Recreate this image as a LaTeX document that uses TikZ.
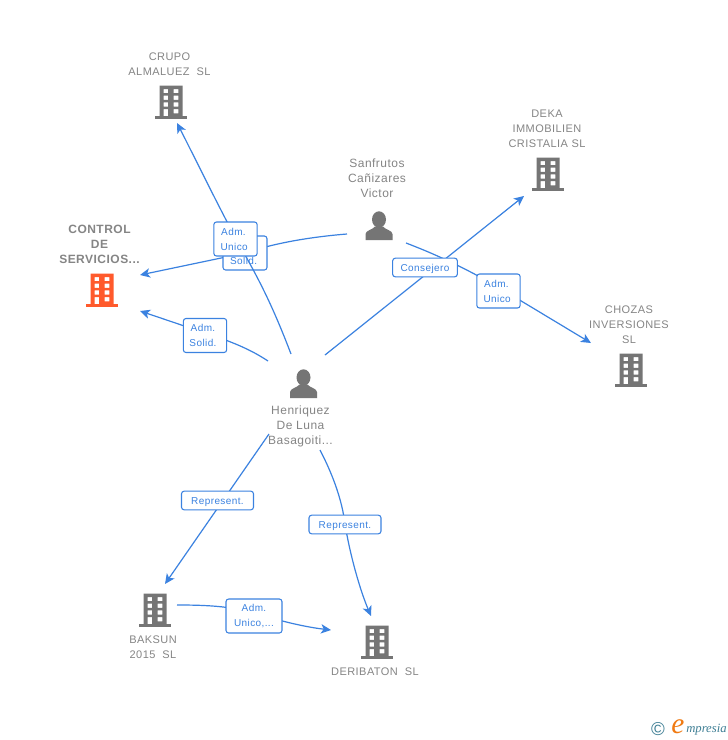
\documentclass[tikz,border=0pt]{standalone}
\usepackage{fontspec}
\setmainfont[LetterSpace=4]{Liberation Sans}
\newfontfamily\logofont{Liberation Serif}
\usetikzlibrary{arrows.meta}
\definecolor{iconG}{HTML}{757575}
\definecolor{textG}{HTML}{858585}
\definecolor{iconO}{HTML}{FF5A2C}
\definecolor{linkB}{HTML}{3B82E0}
\definecolor{logoT}{HTML}{3F7F95}
\definecolor{logoO}{HTML}{F07A12}
\newcommand{\onelinetag}[1]{\raisebox{-3.3pt}[0pt][0pt]{#1}}
\tikzset{
  x=0.75pt,y=-0.75pt,
  link/.style={draw=linkB,line width=0.9pt,-{Stealth[length=7.5pt,width=7pt,inset=2pt]}},
  tag/.style={draw=linkB,line width=0.8pt,rounded corners=2pt,fill=white,text=linkB,align=center,inner sep=0pt,
     font=\fontsize{7.5pt}{11.25pt}\selectfont},
  co/.style={text=textG,align=center,inner sep=0pt,font=\fontsize{8.25pt}{11.25pt}\selectfont},
  coB/.style={text=textG,align=center,inner sep=0pt,font=\fontsize{9pt}{11.25pt}\selectfont\bfseries},
  pe/.style={text=textG,align=center,inner sep=0pt,font=\fontsize{9pt}{11.25pt}\selectfont},
  building/.pic={
    \fill[even odd rule,pic actions]
      (-11.5,-16.5) rectangle (11.5,15)
      (-7.5,-13) rectangle (-2.8,-8.8)
      (2.6,-13) rectangle (7.3,-8.8)
      (-7.5,-6.3) rectangle (-2.8,-2.1)
      (2.6,-6.3) rectangle (7.3,-2.1)
      (-7.5,0.4) rectangle (-2.8,4.6)
      (2.6,0.4) rectangle (7.3,4.6)
      (-7.5,7) rectangle (-2.8,15)
      (2.6,7) rectangle (7.3,11.4);
    \fill[pic actions] (-16,14.2) rectangle (16,16.5);
  },
  person/.pic={
    \fill[pic actions] (0,-6.5) ellipse (7 and 8.2);
    \fill[pic actions] (-13.5,14) -- (-13.5,8)
      .. controls (-13.5,4.5) and (-6,3.5) .. (-4,0.5)
      -- (4,0.5)
      .. controls (6,3.5) and (13.5,4.5) .. (13.5,8) -- (13.5,14) -- cycle;
  }
}
\begin{document}
\begin{tikzpicture}
\useasboundingbox (0,0) rectangle (728,740);
\fill[white] (0,0) rectangle (728,740);

% icons
\pic[iconG] at (171,102) {building};
\pic[iconG] at (548,174) {building};
\pic[iconG] at (631,370) {building};
\pic[iconO] at (102,290) {building};
\pic[iconG] at (155,610) {building};
\pic[iconG] at (377,642) {building};
\pic[iconG] at (303.5,384) {person};
\pic[iconG] at (379,226) {person};

% texts
\node[co] (crupo) at (169.5,64.5) {CRUPO\\ALMALUEZ~~SL};
\node[co] (deka) at (547,128.5) {DEKA\\IMMOBILIEN\\CRISTALIA SL};
\node[co] (chozas) at (629,324.5) {CHOZAS\\INVERSIONES\\SL};
\node[coB] (control) at (99.5,244.5) {CONTROL\\DE\\SERVICIOS...};
\node[co] (baksun) at (153,647) {BAKSUN\\2015~~SL};
\node[co] (deribaton) at (375,671.5) {DERIBATON~~SL};
\node[pe] (sanfrutos) at (377,178) {Sanfrutos\\Cañizares\\Victor};
\node[pe] (henriquez) at (300.5,426.5) {Henriquez\\De Luna\\Basagoiti...};

% free ends
\coordinate (hA) at (291,354);
\coordinate (aCrupo) at (177,123);
\coordinate (sB) at (347,234);
\coordinate (aControlA) at (140,275);
\coordinate (hC) at (268,361);
\coordinate (aControlB) at (140,311);
\coordinate (hD) at (325,355);
\coordinate (aDeka) at (524,196);
\coordinate (sE) at (406,243);
\coordinate (aChozas) at (591,343);
\coordinate (hF) at (269,434);
\coordinate (aBaksun) at (165,584);
\coordinate (hG) at (320,450);
\coordinate (aDeribatonA) at (371,616);
\coordinate (bH) at (177,605);
\coordinate (aDeribatonB) at (331,630);

% connector under the lower tag
\path[link] (sB) .. controls (310,237) and (275,243) .. (245,253) -- (aControlA);

% the upper tag covers this tag's first line: only "Solid." is printed
\node[tag,minimum width=33pt,minimum height=25.5pt] (tagB) at (245,253) {\vphantom{Adm.}\\Solid.\kern2pt};

\path[link] (hA) .. controls (275,312) and (262,285) .. (245,255) .. controls (225,220) and (195,158) .. (aCrupo);
\path[link] (hC) .. controls (250,349) and (230,341) .. (205,333) -- (aControlB);
\path[link] (hD) -- (aDeka);
\path[link] (sE) .. controls (435,254) and (465,268) .. (498,287) -- (aChozas);
\path[link] (hF) -- (aBaksun);
\path[link] (hG) .. controls (333,475) and (342,500) .. (345,524) .. controls (350,555) and (360,590) .. (aDeribatonA);
\path[link] (bH) .. controls (205,605) and (230,606) .. (254,613) .. controls (280,621) and (305,627) .. (aDeribatonB);

% tags
\node[tag,minimum width=32.5pt,minimum height=25.5pt] (tagA) at (235.5,239) {Adm.\kern3pt\\Unico\kern2pt};
\node[tag,minimum width=32.5pt,minimum height=25.5pt] (tagC) at (205,335.5) {Adm.\kern3pt\\Solid.\kern3pt};
\node[tag,minimum width=48.5pt,minimum height=14pt] (tagD) at (425,267.5) {\onelinetag{Consejero}};
\node[tag,minimum width=32.5pt,minimum height=25.5pt] (tagE) at (498.5,291) {Adm.\kern3pt\\Unico\kern2pt};
\node[tag,minimum width=54pt,minimum height=14pt] (tagF) at (217.5,500.5) {\onelinetag{Represent.}};
\node[tag,minimum width=54pt,minimum height=14pt] (tagG) at (345,524.5) {\onelinetag{Represent.}};
\node[tag,minimum width=42pt,minimum height=25.5pt] (tagH) at (254,616) {Adm.\\Unico,...};

% logo
\node[text=logoT,inner sep=0pt,font=\fontsize{14pt}{14pt}\selectfont] (logoC) at (658,729) {©};
\node[text=logoO,inner sep=0pt,font=\logofont\fontsize{22pt}{22pt}\selectfont\itshape] (logoE) at (678,727) {e};
\node[text=logoT,inner sep=0pt,anchor=west,font=\logofont\fontsize{9.5pt}{10pt}\selectfont\itshape] (logoM) at (686,730) {mpresia};
\end{tikzpicture}
\end{document}
